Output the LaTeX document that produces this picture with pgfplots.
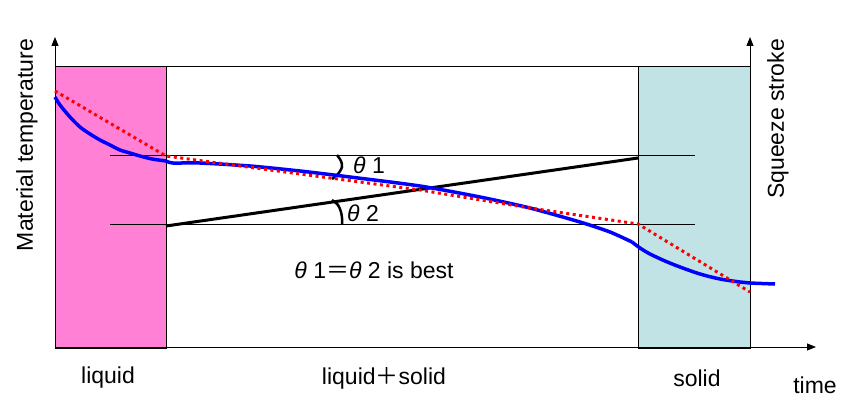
\documentclass[border=0pt]{standalone}
\usepackage{pgfplots}
\pgfplotsset{compat=1.18}
\usepackage{fontspec}
\setmainfont{Liberation Sans}
\newfontfamily\cjk{Noto Sans CJK JP}
\usetikzlibrary{arrows.meta}
\definecolor{liqpink}{RGB}{255,128,212}
\definecolor{solcyan}{RGB}{194,227,230}
\tikzset{lbl/.style={font=\fontsize{23}{27}\selectfont, inner sep=0pt}}
\begin{document}
\begin{tikzpicture}
\begin{axis}[
  width=847pt, height=404pt, scale only axis,
  xmin=0, xmax=847, ymin=0, ymax=404, y dir=reverse,
  axis line style={draw=none}, ticks=none, clip=false,
]
% regions
\addplot[fill=liqpink, draw=black, line width=1pt] coordinates {(55,67) (166,67) (166,348) (55,348)} --cycle;
\addplot[fill=solcyan, draw=black, line width=1pt] coordinates {(638,67) (750,67) (750,348) (638,348)} --cycle;
\addplot[draw=black, line width=1pt] coordinates {(166,67) (638,67)};
% reference lines
\addplot[draw=black, line width=1pt] coordinates {(110,155) (695,155)};
\addplot[draw=black, line width=1pt] coordinates {(110,224) (695,224)};
% axes
\addplot[draw=black, line width=1pt, -{Triangle[length=9pt,width=7pt]}] coordinates {(55,348) (55,37)};
\addplot[draw=black, line width=1pt, -{Triangle[length=9pt,width=7pt]}] coordinates {(750,348) (750,37)};
\addplot[draw=black, line width=1pt, -{Triangle[length=9pt,width=7pt]}] coordinates {(55,347) (816,347)};
% squeeze stroke
\addplot[draw=black, line width=3pt] coordinates {(166,226) (638,158)};
% angle arcs
\addplot[draw=black, line width=2.5pt, smooth] coordinates {(337,155) (341,161) (342,167) (338,174) (332,179)};
\addplot[draw=black, line width=2.5pt, smooth] coordinates {(332,200) (338,205) (341,212) (342,218) (342,224)};
% temperature curves
\addplot[draw=blue, line width=3.5pt, smooth, tension=0.5] coordinates {
(55,97) (60,105) (70,117) (80,127) (90,134) (100,140) (110,145) (120,150) (130,153) (140,156) (152,159) (166,161)};
\addplot[draw=blue, line width=3.5pt, smooth, tension=0.4] coordinates {
(166,161) (173,163) (200,163) (250,166) (300,171) (350,177) (420,186) (480,197) (530,208) (580,222) (610,232) (632,242)};
\addplot[draw=blue, line width=3.5pt, smooth, tension=0.5] coordinates {
(632,242) (640,248) (650,254) (665,261) (680,267) (700,274) (720,279) (740,282) (750,283) (775,284)};
\addplot[draw=red, line width=3pt, dash pattern=on 3pt off 3.5pt] coordinates {
(55,91) (166,156) (300,174) (420,190) (530,208) (638,224) (750,292)};
% texts
\node[lbl] at (axis cs:369,165) {\itshape θ\upshape\ 1};
\node[lbl] at (axis cs:363,213) {\itshape θ\upshape\ 2};
\node[lbl] at (axis cs:374,270) {\itshape θ\upshape\ 1{\cjk ＝}\itshape θ\upshape\ 2 is best};
\node[lbl] at (axis cs:108,378) {liquid};
\node[lbl] at (axis cs:384,378) {liquid{\cjk ＋}solid};
\node[lbl] at (axis cs:697,378) {solid};
\node[lbl] at (axis cs:815,385) {time};
\node[lbl, rotate=90] at (axis cs:27,145) {Material temperature};
\node[lbl, rotate=90] at (axis cs:778,119) {Squeeze stroke};
\end{axis}
\end{tikzpicture}
\end{document}
